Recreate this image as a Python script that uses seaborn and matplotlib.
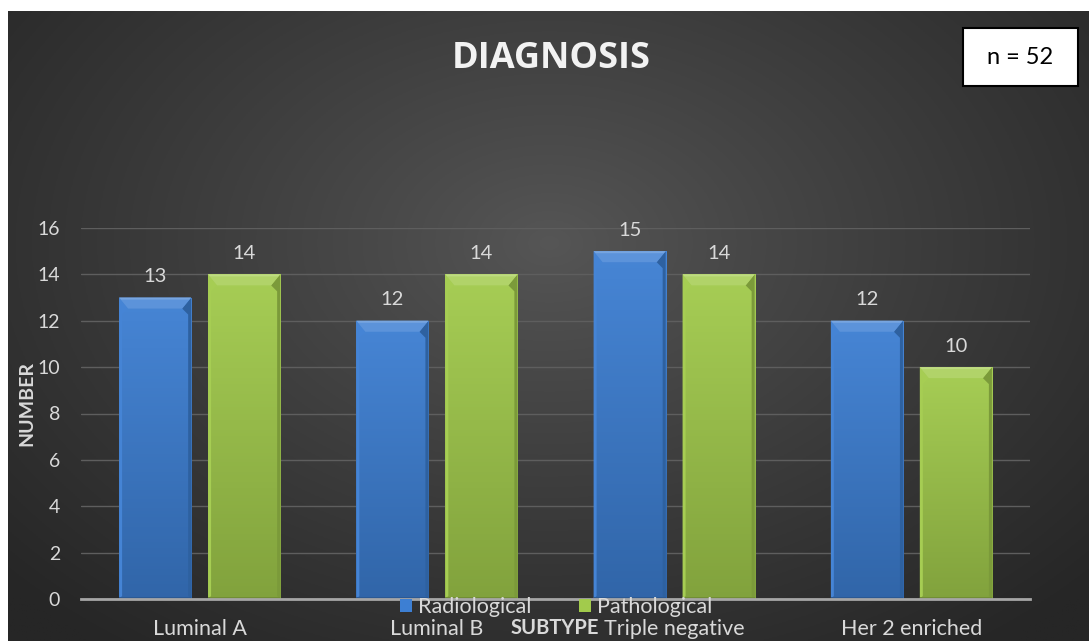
import numpy as np
import pandas as pd
import matplotlib
matplotlib.use("Agg")
import matplotlib.pyplot as plt
import matplotlib.colors as mcolors
from matplotlib.patches import Polygon, Rectangle, Patch
import seaborn as sns

# ---- data ----
subtypes = ["Luminal A", "Luminal B", "Triple negative", "Her 2 enriched"]
methods = ["Radiological", "Pathological"]
radiological = [13, 12, 15, 12]
pathological = [14, 14, 14, 10]
y_ticks = [0, 2, 4, 6, 8, 10, 12, 14, 16]

df = pd.DataFrame({
    "subtype": subtypes * 2,
    "method": [methods[0]] * len(subtypes) + [methods[1]] * len(subtypes),
    "count": radiological + pathological,
})

BLUE = "#3d7fd3"
GREEN = "#a2cb4c"
TEXT = "#d9d9d9"

sns.set_theme(style="dark")
plt.rcParams["font.family"] = ["Lato", "DejaVu Sans"]

W, H = 1089, 641
fig = plt.figure(figsize=(W / 100, H / 100), dpi=100)
fig.patch.set_facecolor("white")

# dark radial-gradient backdrop
bg = fig.add_axes([8 / W, 0, 1 - 8 / W, 1 - 11 / H], zorder=-10)
bg.set_axis_off()
yy, xx = np.mgrid[0:300, 0:500]
cx, cy = 250, 110
r = np.sqrt(((xx - cx) / 340.0) ** 2 + ((yy - cy) / 240.0) ** 2)
r = np.clip(r, 0, 1) ** 0.9
c_in = np.array(mcolors.to_rgb("#565656"))
c_out = np.array(mcolors.to_rgb("#262626"))
img = c_in[None, None, :] * (1 - r[..., None]) + c_out[None, None, :] * r[..., None]
bg.imshow(img, aspect="auto", extent=[0, 1, 0, 1], origin="upper")
bg.set_xlim(0, 1)
bg.set_ylim(0, 1)

# plot area
x_left, x_right, y_top, y_bot = 81, 1030, 228, 599
ax = fig.add_axes([x_left / W, 1 - y_bot / H, (x_right - x_left) / W, (y_bot - y_top) / H])
ax.set_facecolor("none")

sns.barplot(data=df, x="subtype", y="count", hue="method", order=subtypes,
            hue_order=methods, palette=[BLUE, GREEN], width=0.75, gap=0.19,
            saturation=1, ax=ax, legend=False, zorder=3, linewidth=0)

ax.set_xlim(-0.5, len(subtypes) - 0.5)
ax.set_ylim(0, 16)
ax.set_yticks(y_ticks)
ax.yaxis.grid(True, color="#5e5e5e", linewidth=1.0, zorder=0)
ax.xaxis.grid(False)
for s in ["top", "right", "left"]:
    ax.spines[s].set_visible(False)
ax.spines["bottom"].set_color("#a6a6a6")
ax.spines["bottom"].set_linewidth(2.0)
ax.spines["bottom"].set_zorder(5)
ax.tick_params(axis="y", colors=TEXT, labelsize=14, length=0, pad=15)
ax.tick_params(axis="x", colors=TEXT, labelsize=15.5, length=0, pad=14.5)

# bar shading: vertical gradient plus bevelled edges
fig.canvas.draw()
bb = ax.get_window_extent()
px_x = (ax.get_xlim()[1] - ax.get_xlim()[0]) / bb.width
px_y = (ax.get_ylim()[1] - ax.get_ylim()[0]) / bb.height


def shade(c, f):
    c = np.array(mcolors.to_rgb(c))
    if f >= 0:
        return tuple(c + (1 - c) * f)
    return tuple(c * (1 + f))


for p in list(ax.patches):
    x0, w, h = p.get_x(), p.get_width(), p.get_height()
    if h <= 0:
        continue
    base = p.get_facecolor()[:3]
    top_c = np.array(shade(base, 0.05))
    bot_c = np.array(shade(base, -0.2))
    t = np.linspace(1, 0, 100)[:, None]
    grad = top_c[None, :] * t + bot_c[None, :] * (1 - t)
    gimg = np.repeat(grad[:, None, :], 2, axis=1)
    im = ax.imshow(gimg, extent=[x0, x0 + w, 0, h], aspect="auto",
                   origin="upper", zorder=3.1)
    im.set_clip_path(p)
    dx, dy = 9 * px_x, 11 * px_y
    sx = 3 * px_x
    ax.add_patch(Polygon([(x0, h), (x0 + w, h), (x0 + w - dx, h - dy), (x0 + dx, h - dy)],
                         closed=True, facecolor=shade(base, 0.16), edgecolor="none", zorder=3.3))
    ax.add_patch(Polygon([(x0, h), (x0 + w, h), (x0 + w - 2 * px_x, h - 2 * px_y), (x0 + 2 * px_x, h - 2 * px_y)],
                         closed=True, facecolor=shade(base, 0.3), edgecolor="none", zorder=3.35))
    ax.add_patch(Polygon([(x0, 0), (x0, h), (x0 + dx, h - dy), (x0 + sx, h - dy - 6 * px_y), (x0 + sx, 3 * px_y)],
                         closed=True, facecolor=shade(base, 0.04), edgecolor="none", zorder=3.2))
    ax.add_patch(Polygon([(x0 + w, 0), (x0 + w, h), (x0 + w - dx, h - dy), (x0 + w - sx, h - dy - 6 * px_y), (x0 + w - sx, 3 * px_y)],
                         closed=True, facecolor=shade(base, -0.24), edgecolor="none", zorder=3.2))
    ax.add_patch(Rectangle((x0, 0), w, 2 * px_y, facecolor=shade(base, -0.3),
                           edgecolor="none", zorder=3.2))

for cont in ax.containers:
    ax.bar_label(cont, fmt="%d", padding=9, color=TEXT, fontsize=14.5)

ax.set_ylabel("NUMBER", color=TEXT, fontsize=14, fontweight="bold")
ax.yaxis.set_label_coords((35 - x_left) / (x_right - x_left), (y_bot - 403) / (y_bot - y_top))
ax.set_xlabel("SUBTYPE", color=TEXT, fontsize=14.5, fontweight="bold")
ax.xaxis.set_label_coords((555 - x_left) / (x_right - x_left), -(628 - y_bot) / (y_bot - y_top))
ax.xaxis.label.set_verticalalignment("center")

handles = [Patch(facecolor=BLUE, edgecolor="none"), Patch(facecolor=GREEN, edgecolor="none")]
fig.legend(handles, methods, loc="center", bbox_to_anchor=(556 / W, 1 - 607 / H), ncol=2,
           frameon=False, fontsize=15.5, labelcolor=TEXT, handlelength=0.55, handleheight=0.55,
           handletextpad=0.3, columnspacing=2.2, borderpad=0)

fig.text(551 / W, 1 - 59 / H, "DIAGNOSIS", ha="center", va="center", fontsize=26,
         fontweight="bold", color="#f2f2f2", family=["Open Sans", "DejaVu Sans"])

fig.text(1020 / W, 1 - 57 / H, "n = 52", ha="center", va="center", fontsize=17, color="black")
fig.patches.append(Rectangle((963 / W, 1 - 86 / H), 115 / W, 58 / H, transform=fig.transFigure,
                             facecolor="white", edgecolor="black", linewidth=1.5, zorder=-1))

fig.savefig("out.png", dpi=100)
